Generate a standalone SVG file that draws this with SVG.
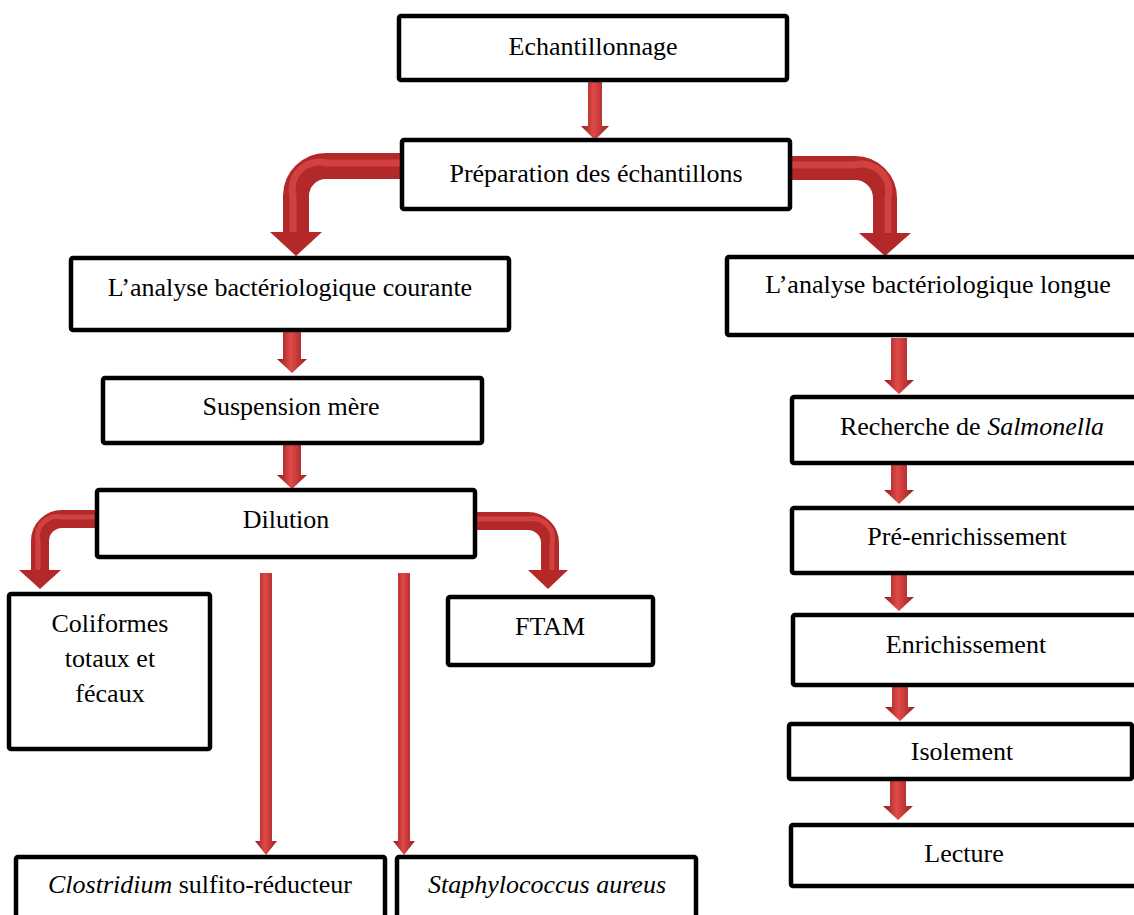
<svg xmlns="http://www.w3.org/2000/svg" width="1134" height="915" viewBox="0 0 1134 915">
<defs>
<linearGradient id="gv" x1="0" y1="0" x2="1" y2="0">
<stop offset="0" stop-color="#8e1b1b"/>
<stop offset="0.45" stop-color="#e04a48"/>
<stop offset="1" stop-color="#9a2020"/>
</linearGradient>
<style>
.box{fill:#fff;stroke:#000;stroke-width:4.5}
.t{font-family:"Liberation Serif","Times New Roman",serif;font-size:26px;fill:#000;text-anchor:middle}
.it{font-style:italic}
.ca{fill:none;stroke:#b3292a;stroke-linejoin:round}
.cah{fill:none;stroke:#dd4b49;stroke-opacity:0.7}
.hd{fill:#b3292a}
</style>
</defs>
<rect width="1134" height="915" fill="#fff"/>
<g id="connectors">
<!-- straight vertical arrows -->
<path d="M588 81 H602 V126 H609 L595 140 L581 126 H588 Z" fill="url(#gv)"/>
<path d="M283 331 H301 V359 H307 L292 373 L277 359 H283 Z" fill="url(#gv)"/>
<path d="M283 444 H301 V475 H307 L292 489 L277 475 H283 Z" fill="url(#gv)"/>
<path d="M891 338 H907 V380 H914 L899 394 L884 380 H891 Z" fill="url(#gv)"/>
<path d="M891 465 H907 V490 H914 L899 504 L884 490 H891 Z" fill="url(#gv)"/>
<path d="M891 575 H907 V597 H914 L899 611 L884 597 H891 Z" fill="url(#gv)"/>
<path d="M892 686 H908 V707 H915 L900 721 L885 707 H892 Z" fill="url(#gv)"/>
<path d="M890 781 H906 V806 H913 L898 820 L883 806 H890 Z" fill="url(#gv)"/>
<path d="M260 573 H272 V841 H277 L266 855 L255 841 H260 Z" fill="url(#gv)"/>
<path d="M398 573 H410 V841 H415 L404 855 L393 841 H398 Z" fill="url(#gv)"/>
<!-- curved arrows -->
<path class="ca" d="M402 166 H326 A30 30 0 0 0 296 196 V234" stroke-width="26"/>
<path class="cah" d="M400 163 H326 A27 27 0 0 0 293 196 V234" stroke-width="7"/>
<polygon class="hd" points="270,232 322,232 296,256"/>
<path class="ca" d="M790 168 H855 A30 30 0 0 1 885 198 V234" stroke-width="24"/>
<path class="cah" d="M792 165 H855 A27 27 0 0 1 888 198 V234" stroke-width="7"/>
<polygon class="hd" points="859,233 911,233 885,256"/>
<path class="ca" d="M97 519 H62 A22 22 0 0 0 40 541 V572" stroke-width="18"/>
<path class="cah" d="M97 517 H62 A20 20 0 0 0 38 541 V572" stroke-width="5"/>
<polygon class="hd" points="19,570 61,570 40,589"/>
<path class="ca" d="M475 521 H528 A22 22 0 0 1 550 543 V572" stroke-width="18"/>
<path class="cah" d="M475 519 H528 A20 20 0 0 1 552 543 V572" stroke-width="5"/>
<polygon class="hd" points="528,570 568,570 548,589"/>
</g>
<g id="n-echantillonnage"><rect class="box" x="399" y="16" width="388" height="64" rx="2"/><text class="t" x="593" y="55">Echantillonnage</text></g>
<g id="n-preparation"><rect class="box" x="402" y="140" width="388" height="69" rx="2"/><text class="t" x="596" y="182">Préparation des échantillons</text></g>
<g id="n-courante"><rect class="box" x="71" y="258" width="438" height="72" rx="2"/><text class="t" x="290" y="296">L’analyse bactériologique courante</text></g>
<g id="n-longue"><rect class="box" x="727" y="257" width="420" height="78" rx="2"/><text class="t" x="938" y="293">L’analyse bactériologique longue</text></g>
<g id="n-suspension"><rect class="box" x="103" y="378" width="379" height="65" rx="2"/><text class="t" x="291" y="415">Suspension mère</text></g>
<g id="n-dilution"><rect class="box" x="97" y="490" width="378" height="67" rx="2"/><text class="t" x="286" y="528">Dilution</text></g>
<g id="n-coliformes"><rect class="box" x="9" y="594" width="201" height="155" rx="2"/><text class="t" x="110" y="632">Coliformes</text><text class="t" x="110" y="667">totaux et</text><text class="t" x="110" y="702">fécaux</text></g>
<g id="n-ftam"><rect class="box" x="448" y="597" width="205" height="68" rx="2"/><text class="t" x="550" y="635">FTAM</text></g>
<g id="n-clostridium"><rect class="box" x="16" y="857" width="369" height="80" rx="2"/><text class="t" x="200" y="893"><tspan class="it">Clostridium</tspan> sulfito-réducteur</text></g>
<g id="n-staphylococcus"><rect class="box" x="397" y="857" width="299" height="80" rx="2"/><text class="t it" x="547" y="893">Staphylococcus aureus</text></g>
<g id="n-salmonella"><rect class="box" x="792" y="397" width="355" height="66" rx="2"/><text class="t" x="972" y="435">Recherche de <tspan class="it">Salmonella</tspan></text></g>
<g id="n-preenrichissement"><rect class="box" x="792" y="508" width="355" height="65" rx="2"/><text class="t" x="967" y="545">Pré-enrichissement</text></g>
<g id="n-enrichissement"><rect class="box" x="793" y="615" width="354" height="70" rx="2"/><text class="t" x="966" y="653">Enrichissement</text></g>
<g id="n-isolement"><rect class="box" x="789" y="724" width="343" height="55" rx="2"/><text class="t" x="962" y="760">Isolement</text></g>
<g id="n-lecture"><rect class="box" x="791" y="825" width="356" height="61" rx="2"/><text class="t" x="964" y="862">Lecture</text></g>
</svg>
